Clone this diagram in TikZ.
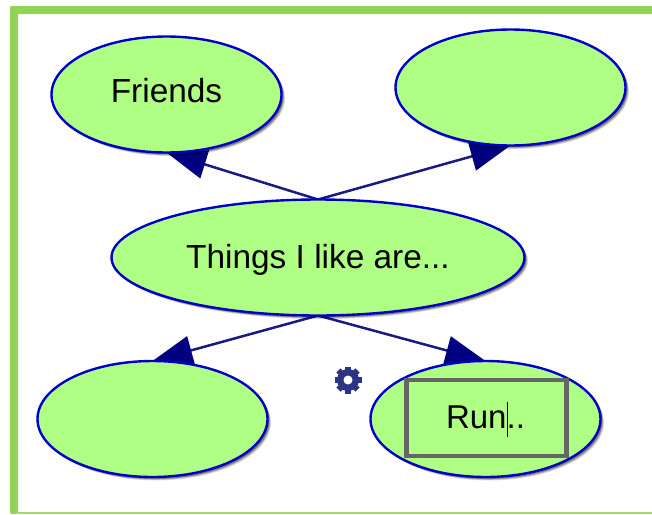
\documentclass[tikz,border=0pt]{standalone}
\usepackage{fontspec}
\setmainfont{Liberation Sans}
\usetikzlibrary{shapes.geometric,arrows.meta,shadows}
\pgfdeclarelayer{back}
\pgfsetlayers{back,main}
\definecolor{framegreen}{RGB}{148,210,88}
\definecolor{nodefill}{RGB}{176,255,133}
\definecolor{nodeline}{RGB}{0,0,200}
\definecolor{arrowhead}{RGB}{0,0,128}
\definecolor{arrowline}{RGB}{26,26,128}
\definecolor{boxgray}{RGB}{102,102,102}
\definecolor{gearblue}{RGB}{43,53,133}
\tikzset{
  softshadow/.style={
    drop shadow={shadow xshift=3.5pt,shadow yshift=-3.5pt,opacity=.12,fill=black},
    drop shadow={shadow xshift=2.8pt,shadow yshift=-2.8pt,opacity=.2,fill=black},
    drop shadow={shadow xshift=2pt,shadow yshift=-2pt,opacity=.3,fill=black}},
  idea/.style={ellipse,draw=nodeline,fill=nodefill,line width=2.4pt,inner sep=0pt,outer sep=0pt,
    minimum width=230pt,minimum height=116pt,font=\fontsize{33.4}{33.4}\selectfont,text=black,
    text height=24pt,text depth=6pt,softshadow},
  link/.style={draw=arrowline,line width=2.5pt,-{Triangle[length=40pt,width=29pt,color=arrowhead]}},
  editbox/.style={rectangle,draw=boxgray,line width=4.5pt,inner sep=0pt,outer sep=0pt,minimum width=160pt,minimum height=76pt},
}
\begin{document}
\begin{tikzpicture}[x=1pt,y=-1pt]
\useasboundingbox (0,0) rectangle (652,514);
\begin{pgfonlayer}{back}
\fill[white] (0,0) rectangle (652,514);
\end{pgfonlayer}
% frame
\fill[framegreen,rounded corners=2pt] (10,6) rectangle (660,14);
\fill[framegreen,rounded corners=2pt] (10,6) rectangle (18,514);
\fill[framegreen!85!white] (18,512) rectangle (652,514);
% nodes
\node[idea,text height=23pt,text depth=7pt] (friends) at (166.5,94.5) {Friends};
\node[idea] (blanktr) at (510.5,87.5) {};
\node[idea,minimum width=413pt,text height=27pt,text depth=6pt] (center) at (318,257.5) {Things I like are...};
\node[idea] (blankbl) at (152.5,419) {};
\node[idea,font=\fontsize{33}{33}\selectfont] (run) at (485.5,419) {Run..};
\node[editbox] (box) at (486.5,418) {};
% connectors
\begin{pgfonlayer}{back}
\draw[link] (center.north) -- (friends.south);
\draw[link] (center.north) -- (blanktr.south);
\draw[link] (center.south) -- (blankbl.north);
\draw[link] (center.south) -- (run.north);
\end{pgfonlayer}
% text cursor
\coordinate (caret) at (507.7,402);
\draw[black,line width=0.8pt] (caret) -- ++(0,35);
% gear icon
\coordinate (gear) at (348,380);
\foreach \a in {0,45,90,135}
  \draw[gearblue,line width=6pt,rotate around={\a:(gear)}] ([xshift=-13.5pt]gear) -- ([xshift=13.5pt]gear);
\fill[gearblue] (gear) circle[radius=11pt];
\fill[white] (gear) circle[radius=4.5pt];
\end{tikzpicture}
\end{document}
